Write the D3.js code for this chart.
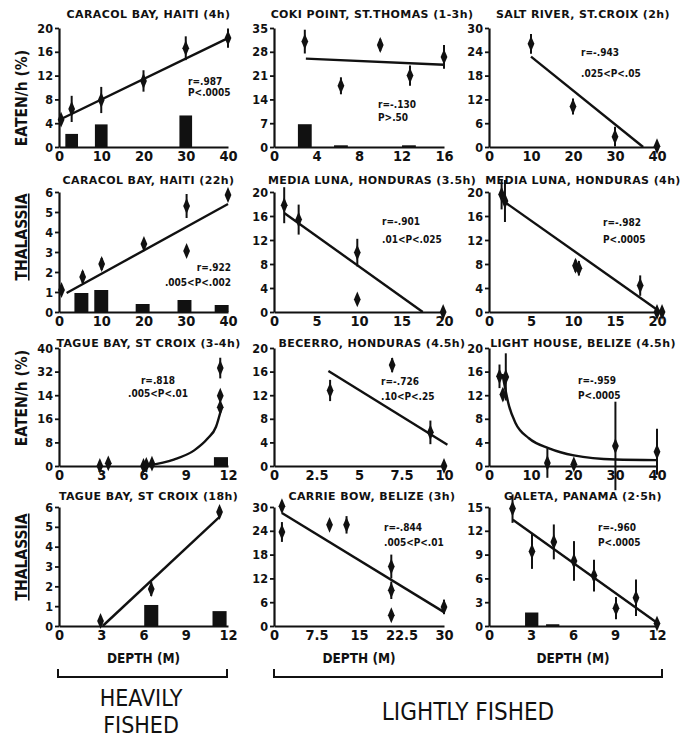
<!DOCTYPE html>
<html>
<head>
<meta charset="utf-8">
<script src="https://cdn.jsdelivr.net/npm/d3@7"></script>
<style>
  body { margin: 0; background: #fff; }
  text { font-family: "DejaVu Sans Condensed", "DejaVu Sans", sans-serif; font-weight: bold; fill: #111; }
</style>
</head>
<body>
<svg id="chart" width="684" height="738"></svg>
<script>
// titles of the 12 panels, row by row
var titles = [
  "CARACOL BAY, HAITI  (4h)", "COKI POINT, ST.THOMAS (1-3h)", "SALT RIVER, ST.CROIX (2h)",
  "CARACOL BAY, HAITI (22h)", "MEDIA LUNA, HONDURAS (3.5h)", "MEDIA LUNA, HONDURAS (4h)",
  "TAGUE BAY, ST CROIX (3-4h)", "BECERRO, HONDURAS (4.5h)", "LIGHT HOUSE, BELIZE (4.5h)",
  "TAGUE BAY, ST CROIX    (18h)", "CARRIE BOW, BELIZE (3h)", "GALETA, PANAMA  (2\u00b75h)"
];
var statsText = [
  ["r=.987", "P<.0005"], ["r=-.130", "P>.50"], ["r=-.943", ".025<P<.05"],
  ["r=.922", ".005<P<.002"], ["r=-.901", ".01<P<.025"], ["r=-.982", "P<.0005"],
  ["r=.818", ".005<P<.01"], ["r=-.726", ".10<P<.25"], ["r=-.959", "P<.0005"],
  [], ["r=-.844", ".005<P<.01"], ["r=-.960", "P<.0005"]
];

// axes
var xTicks = [
  [0,10,20,30,40], [0,4,8,12,16], [0,10,20,30,40],
  [0,10,20,30,40], [0,5,10,15,20], [0,5,10,15,20],
  [0,3,6,9,12], [0,2.5,5,7.5,10], [0,10,20,30,40],
  [0,3,6,9,12], [0,7.5,15,22.5,30], [0,3,6,9,12]
];
var yTicks = [
  [0,4,8,12,16,20], [0,7,14,21,28,35], [0,6,12,18,24,30],
  [0,1,2,3,4,5,6], [0,4,8,12,16,20], [0,4,8,12,16,20],
  [0,8,16,24,32,40], [0,4,8,12,16,20], [0,4,8,12,16,20],
  [0,1,2,3,4,5,6], [0,6,12,18,24,30], [0,3,6,9,12,15]
];
// the printed labels of the 3-4h Tague Bay panel (as printed)
var tague34YLabels = ["0","8","16","14","32","40"];

// CARACOL BAY 4h
var caracol4Depth = [0.5,3,10,20,30,40];
var caracol4Eaten = [4.6,6.4,7.9,11.1,16.6,18.3];
var caracol4Err   = [0.8,2.2,2.2,1.8,2.0,1.6];
var caracol4BarX  = [3,10,30];
var caracol4BarH  = [2.2,3.8,5.3];
var caracol4Fit   = [[0.5,4.7],[40,18.3]];
// COKI POINT
var cokiDepth = [2.9,6.3,10,12.8,16];
var cokiEaten = [31,18,30,21,26.5];
var cokiErr   = [3.5,2.5,1.8,3,3.5];
var cokiBarX  = [2.9,6.3,12.7];
var cokiBarH  = [6.7,0.5,0.5];
var cokiFit   = [[3,26],[16,24.2]];
// SALT RIVER
var saltDepth = [10,20,30,40];
var saltEaten = [26,10.2,2.6,0.2];
var saltErr   = [2.5,2,2.5,0.3];
var saltFit   = [[10,22.8],[36.7,0]];
// CARACOL BAY 22h
var caracol22Depth = [0.6,5.6,10.1,20.1,30.2,30.2,40];
var caracol22Eaten = [1.1,1.75,2.4,3.4,5.3,3.05,5.85];
var caracol22Err   = [0.2,0.3,0.3,0.2,0.6,0.2,0.2];
var caracol22BarX  = [5.3,10,19.8,29.7,38.5];
var caracol22BarH  = [0.95,1.1,0.4,0.6,0.35];
var caracol22Fit   = [[1.8,0.95],[40,5.4]];
// MEDIA LUNA 3.5h
var luna35Depth = [1.2,2.9,9.8,9.8,19.9];
var luna35Eaten = [17.8,15.4,9.9,2.1,0];
var luna35Err   = [3,2.5,2.3,0.3,0];
var luna35Fit   = [[1.2,16.5],[17.5,0]];
// MEDIA LUNA 4h
var luna4Depth = [1.5,1.9,10.3,10.7,18,20,20.6];
var luna4Eaten = [19.6,18.5,7.7,7.3,4.4,0,0];
var luna4Err   = [2.5,3.5,1,1.2,1.7,0,0];
var luna4Fit   = [[1.9,18.3],[20.4,0]];
// TAGUE BAY 3-4h
var tague34Depth = [2.9,3.5,6,6.2,6.6,11.45,11.45,11.45];
var tague34Eaten = [0,0.9,0,0.4,0.8,33.2,23.8,19.9];
var tague34Err   = [0.4,0.4,0.4,0.4,0.4,3.5,0.6,0.8];
var tague34BarX  = [11.5];
var tague34BarH  = [3];
var tague34Fit   = [[6.3,0.2],[8.15,2.2],[9.6,5.3],[10.55,9.3],[11.15,13.3],[11.5,19]];
// BECERRO
var becerroDepth = [3.3,6.95,9.2,10];
var becerroEaten = [12.8,17.1,5.7,0];
var becerroErr   = [1.8,1.2,2,0];
var becerroFit   = [[3.2,16.1],[10.2,3.6]];
// LIGHT HOUSE
var lightDepth = [2.5,3.3,4,13.9,20.2,30.1,40];
var lightEaten = [15.2,12.1,15.1,0.5,0.3,3.4,2.4];
var lightErr   = [2,1,4,2.5,0.8,7.5,3.9];
var lightFit   = [[3.2,15.6],[4.8,10.1],[6.3,7.3],[9.5,4.7],[14.3,3],[20.2,1.8],[30.1,1.1],[40,1]];
// TAGUE BAY 18h
var tague18Depth = [2.95,6.55,11.4];
var tague18Eaten = [0.25,1.86,5.75];
var tague18Err   = [0.2,0.35,0.25];
var tague18BarX  = [6.55,11.4];
var tague18BarH  = [1.06,0.75];
var tague18Fit   = [[3.1,0],[11.4,5.5]];
// CARRIE BOW
var carrieDepth = [1.4,1.4,9.8,12.8,20.7,20.7,20.7,30];
var carrieEaten = [30.2,23.7,25.5,25.5,15,9,2.7,4.8];
var carrieErr   = [0.3,2.5,1,2.2,3,2.2,0.5,1.8];
var carrieFit   = [[1.4,28.5],[30,3.5]];
// GALETA
var galetaDepth = [1.68,3.07,4.63,6.07,7.5,9.07,10.5,12];
var galetaEaten = [14.8,9.4,10.6,8.2,6.35,2.25,3.55,0.3];
var galetaErr   = [1.8,2.2,2.2,2.5,2,1.4,2.3,0.2];
var galetaBarX  = [3.05,4.55];
var galetaBarH  = [1.7,0.22];
var galetaFit   = [[1.7,13.4],[12,0.4]];

// table the drawing code walks through
var panels = [
  {d: caracol4Depth, v: caracol4Eaten, e: caracol4Err, bx: caracol4BarX, bh: caracol4BarH, bw: 3, fit: caracol4Fit},
  {d: cokiDepth, v: cokiEaten, e: cokiErr, bx: cokiBarX, bh: cokiBarH, bw: 1.3, fit: cokiFit},
  {d: saltDepth, v: saltEaten, e: saltErr, fit: saltFit},
  {d: caracol22Depth, v: caracol22Eaten, e: caracol22Err, bx: caracol22BarX, bh: caracol22BarH, bw: 3.3, fit: caracol22Fit},
  {d: luna35Depth, v: luna35Eaten, e: luna35Err, fit: luna35Fit},
  {d: luna4Depth, v: luna4Eaten, e: luna4Err, fit: luna4Fit},
  {d: tague34Depth, v: tague34Eaten, e: tague34Err, bx: tague34BarX, bh: tague34BarH, bw: 1, fit: tague34Fit, curve: true, yLabels: tague34YLabels},
  {d: becerroDepth, v: becerroEaten, e: becerroErr, fit: becerroFit},
  {d: lightDepth, v: lightEaten, e: lightErr, fit: lightFit, curve: true},
  {d: tague18Depth, v: tague18Eaten, e: tague18Err, bx: tague18BarX, bh: tague18BarH, bw: 1, fit: tague18Fit},
  {d: carrieDepth, v: carrieEaten, e: carrieErr, fit: carrieFit},
  {d: galetaDepth, v: galetaEaten, e: galetaErr, bx: galetaBarX, bh: galetaBarH, bw: 0.95, fit: galetaFit}
];

// layout (pixels)
var colX = [[59,228],[274,444],[489,657]];
var rowY = [[28,147],[192,312],[348,466],[507,626]];
var titleY = [18, 184, 347, 500];
var titleShift = [5, 13, 10];
// where the r / P text sits: [x, y of first line, line gap, anchor]
var statsPos = [
  [188,85,11,"start"], [378,108,13,"start"], [581,56,21,"start"],
  [231,271,15,"end"], [382,225,18,"start"], [603,226,17,"start"],
  [158,384,13,"middle"], [381,385,15,"start"], [578,384,15,"start"],
  [0,0,0,"start"], [384,531,15,"start"], [598,531,15,"start"]
];

var svg = d3.select("#chart");

panels.forEach(function(p, i) {
  var col = i % 3, row = Math.floor(i / 3);
  var yt = yTicks[i], xt = xTicks[i];
  var x = d3.scaleLinear().domain([xt[0], xt[xt.length-1]]).range(colX[col]);
  var y = d3.scaleLinear().domain([yt[0], yt[yt.length-1]]).range([rowY[row][1], rowY[row][0]]);
  var g = svg.append("g");

  // bars (fish feeding rate, drawn behind)
  if (p.bx) {
    g.selectAll(".bar").data(p.bx).enter().append("rect")
      .attr("x", d => x(d - p.bw/2))
      .attr("y", (d, j) => y(p.bh[j]))
      .attr("width", d => x(d + p.bw/2) - x(d - p.bw/2))
      .attr("height", (d, j) => y(0) - y(p.bh[j]))
      .attr("fill", "#111");
  }

  // axes
  var yAxis = d3.axisLeft(y).tickValues(yt).tickSize(4).tickSizeOuter(0).tickPadding(2)
    .tickFormat((d, j) => p.yLabels ? p.yLabels[j] : String(d));
  var ya = g.append("g").attr("transform", `translate(${colX[col][0]},0)`).call(yAxis);
  var xa = g.append("g").attr("transform", `translate(0,${rowY[row][1]})`)
    .call(d3.axisBottom(x).tickValues(xt).tickSize(0).tickSizeOuter(0).tickPadding(4)
      .tickFormat(d => String(d)));
  [ya, xa].forEach(function(a) {
    a.select(".domain").attr("stroke", "#111").attr("stroke-width", 2.2);
    a.selectAll(".tick line").attr("stroke", "#111").attr("stroke-width", 1.8);
    a.selectAll("text").attr("font-family", null).style("fill", "#111");
  });
  ya.selectAll("text").attr("font-size", 12.5);
  xa.selectAll("text").attr("font-size", 14.5);

  // fitted line / curve
  var line = d3.line().x(d => x(d[0])).y(d => y(d[1]));
  if (p.curve) line.curve(d3.curveMonotoneX);
  g.append("path").datum(p.fit).attr("d", line)
    .attr("fill", "none").attr("stroke", "#111").attr("stroke-width", 2.4);

  // error bars and means
  g.selectAll(".err").data(p.d).enter().append("line")
    .attr("x1", d => x(d)).attr("x2", d => x(d))
    .attr("y1", (d, j) => y(p.v[j] - p.e[j]))
    .attr("y2", (d, j) => y(p.v[j] + p.e[j]))
    .attr("stroke", "#111").attr("stroke-width", 2);
  g.selectAll(".pt").data(p.d).enter().append("path")
    .attr("transform", (d, j) => `translate(${x(d)},${y(p.v[j])}) scale(0.85,1.15)`)
    .attr("d", d3.symbol(d3.symbolDiamond, 55))
    .attr("fill", "#111");

  // title
  g.append("text").attr("x", (colX[col][0] + colX[col][1]) / 2 + titleShift[col])
    .attr("y", titleY[row]).attr("text-anchor", "middle")
    .style("font-family", "'DejaVu Sans', sans-serif")
    .style("letter-spacing", "0.4px")
    .attr("font-size", 11).text(titles[i]);

  // r and P values
  var sp = statsPos[i];
  statsText[i].forEach(function(s, k) {
    g.append("text").attr("x", sp[0]).attr("y", sp[1] + k * sp[2])
      .attr("text-anchor", sp[3]).attr("font-size", 10).text(s);
  });
});

// left axis titles
[[98, "EATEN/h (%)", false], [237, "THALASSIA", true], [398, "EATEN/h (%)", false], [557, "THALASSIA", true]]
  .forEach(function(l) {
    svg.append("text").attr("transform", `translate(27,${l[0]}) rotate(-90)`)
      .attr("text-anchor", "middle").attr("font-size", 15.5)
      .style("text-decoration", l[2] ? "underline" : "none")
      .text(l[1]);
  });

// depth labels
colX.forEach(function(c) {
  svg.append("text").attr("x", (c[0] + c[1]) / 2).attr("y", 663)
    .attr("text-anchor", "middle").attr("font-size", 13.5).text("DEPTH (M)");
});

// brackets for the fishing groups
var brackets = [[58, 227], [274, 662]];
brackets.forEach(function(b) {
  svg.append("path")
    .attr("d", `M${b[0]},669 V677 H${b[1]} V669`)
    .attr("fill", "none").attr("stroke", "#111").attr("stroke-width", 2);
});
svg.append("text").attr("x", 141).attr("y", 706).attr("text-anchor", "middle")
  .attr("font-size", 23).style("font-weight", "normal").text("HEAVILY");
svg.append("text").attr("x", 141).attr("y", 733).attr("text-anchor", "middle")
  .attr("font-size", 23).style("font-weight", "normal").text("FISHED");
svg.append("text").attr("x", 468).attr("y", 720).attr("text-anchor", "middle")
  .attr("font-size", 24).style("font-weight", "normal").text("LIGHTLY FISHED");
</script>
</body>
</html>
